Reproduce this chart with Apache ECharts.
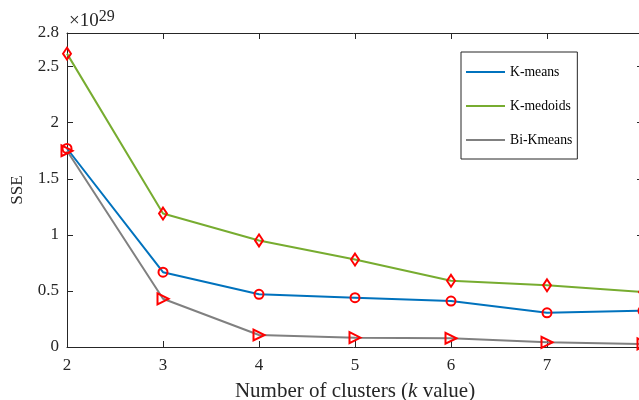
<!DOCTYPE html>
<html>
<head>
<meta charset="utf-8">
<script src="https://cdn.jsdelivr.net/npm/echarts@6/dist/echarts.min.js"></script>
<style>
  html, body { margin: 0; padding: 0; background: #fff; }
  #chart { width: 639px; height: 400px; }
</style>
</head>
<body>
<div id="chart"></div>
<script>
// Number of clusters k
const kValues = [2, 3, 4, 5, 6, 7, 8];
// SSE values, in units of 1e29
const kMeans   = [1.77, 0.667, 0.47, 0.44, 0.41, 0.305, 0.324];
const kMedoids = [2.616, 1.19, 0.95, 0.78, 0.59, 0.55, 0.49];
const biKmeans = [1.75, 0.43, 0.107, 0.083, 0.078, 0.042, 0.027];
const seriesNames = ['K-means', 'K-medoids', 'Bi-Kmeans'];
const lineColors = ['#0072BD', '#77AC30', '#808080'];

const FONT = 'Liberation Serif, Times New Roman, serif';
const AXIS_COLOR = '#262626';
const MARK = '#FF0000';

function pairs(ys) { return kValues.map((k, i) => [k, ys[i]]); }

function makeSeries(name, ys, color, symbol, size, rotate) {
  return {
    name: name,
    type: 'line',
    data: pairs(ys),
    xAxisIndex: 0,
    yAxisIndex: 0,
    symbol: symbol,
    symbolSize: size,
    symbolRotate: rotate || 0,
    showAllSymbol: true,
    clip: false,
    lineStyle: { color: color, width: 2 },
    itemStyle: { color: 'rgba(0,0,0,0)', borderColor: MARK, borderWidth: 2 },
    emphasis: { disabled: true },
    z: 3
  };
}

const chart = echarts.init(document.getElementById('chart'), null, { renderer: 'canvas' });

const axisLineStyle = { color: AXIS_COLOR, width: 1 };

chart.setOption({
  animation: false,
  backgroundColor: '#fff',
  textStyle: { fontFamily: FONT },
  // the plot box runs a few pixels past the right edge of the canvas
  grid: { left: 67, top: 33, width: 576, height: 314, containLabel: false, outerBoundsMode: 'none' },
  xAxis: [{
    type: 'value', min: 2, max: 8, interval: 1, position: 'bottom',
    name: '{n|Number of clusters (}{i|k}{n| value)}',
    nameLocation: 'middle', nameGap: 34,
    nameTextStyle: {
      rich: {
        n: { fontFamily: FONT, fontSize: 21, color: AXIS_COLOR },
        i: { fontFamily: FONT, fontSize: 21, color: AXIS_COLOR, fontStyle: 'italic' }
      }
    },
    axisLine: { show: true, lineStyle: axisLineStyle },
    axisTick: { show: true, inside: true, length: 6, lineStyle: axisLineStyle },
    axisLabel: { fontFamily: FONT, fontSize: 17, color: AXIS_COLOR, margin: 10, showMaxLabel: true },
    splitLine: { show: false }
  }, {
    type: 'value', min: 2, max: 8, interval: 1, position: 'top',
    axisLine: { show: true, onZero: false, lineStyle: axisLineStyle },
    axisTick: { show: true, inside: true, length: 6, lineStyle: axisLineStyle },
    axisLabel: { show: false },
    splitLine: { show: false }
  }],
  yAxis: [{
    type: 'value', min: 0, max: 2.8, interval: 0.5, position: 'left',
    name: 'SSE', nameLocation: 'middle', nameGap: 41, nameRotate: 90,
    nameTextStyle: { fontFamily: FONT, fontSize: 17, color: AXIS_COLOR },
    axisLine: { show: true, lineStyle: axisLineStyle },
    axisTick: { show: true, inside: true, length: 6, lineStyle: axisLineStyle },
    axisLabel: { fontFamily: FONT, fontSize: 17, color: AXIS_COLOR, margin: 8,
      formatter: v => String(Math.round(v * 10) / 10) },
    splitLine: { show: false }
  }, {
    type: 'value', min: 0, max: 2.8, interval: 0.5, position: 'right',
    axisLine: { show: true, onZero: false, lineStyle: axisLineStyle },
    axisTick: { show: true, inside: true, length: 6, lineStyle: axisLineStyle },
    axisLabel: { show: false },
    splitLine: { show: false }
  }],
  legend: {
    orient: 'vertical',
    left: 461, top: 52,
    padding: [13, 5, 12, 5],
    itemGap: 20,
    itemWidth: 39, itemHeight: 2,
    icon: 'rect',
    backgroundColor: '#fff',
    borderColor: AXIS_COLOR, borderWidth: 1,
    textStyle: { fontFamily: FONT, fontSize: 13.7, color: '#000' },
    selectedMode: false,
    data: seriesNames.map((n, i) => ({ name: n, icon: 'rect', itemStyle: { color: lineColors[i], borderWidth: 0 } }))
  },
  graphic: [{
    type: 'text', left: 69, top: 9,
    style: {
      text: '{b|×10}{s|29}',
      rich: {
        b: { fontFamily: FONT, fontSize: 19, fill: AXIS_COLOR, verticalAlign: 'bottom', lineHeight: 22 },
        s: { fontFamily: FONT, fontSize: 16, fill: AXIS_COLOR, verticalAlign: 'top', lineHeight: 22, padding: [0, 0, 9, 0] }
      }
    }
  }],
  series: [
    makeSeries(seriesNames[0], kMeans, lineColors[0], 'circle', 9),
    makeSeries(seriesNames[1], kMedoids, lineColors[1], 'diamond', [8, 12]),
    makeSeries(seriesNames[2], biKmeans, lineColors[2], 'triangle', 11, -90)
  ]
});
</script>
</body>
</html>
